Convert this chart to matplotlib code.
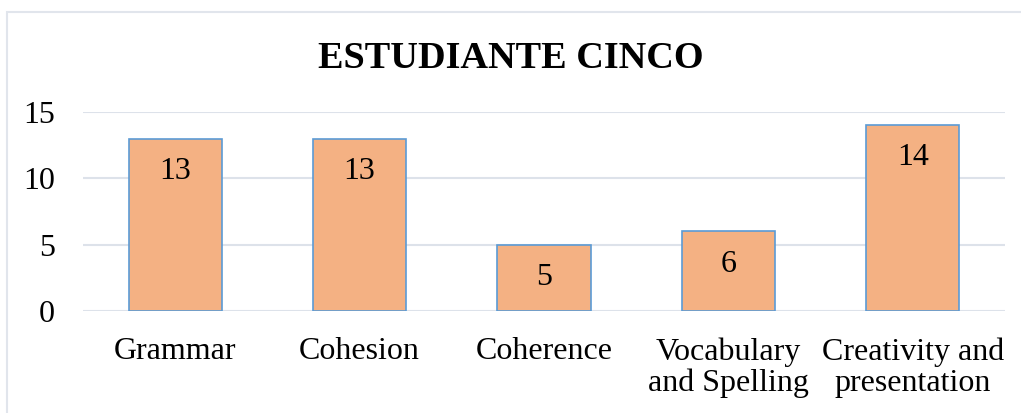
import matplotlib.pyplot as plt
from matplotlib.patches import Rectangle

categories = ['Grammar', 'Cohesion', 'Coherence', 'Vocabulary\nand Spelling', 'Creativity and\npresentation']
scores = [13, 13, 5, 6, 14]
yticks = [0, 5, 10, 15]

plt.rcParams['font.family'] = ['Liberation Serif', 'DejaVu Serif']

fig = plt.figure(figsize=(10.21, 4.13), dpi=100)
ax = fig.add_axes([83 / 1021, 1 - 311 / 413, 922 / 1021, 199 / 413])

# outer chart frame (right/bottom edges run off the picture)
fig.patches.append(Rectangle((7 / 1021, -0.05), 1.1, 1 - 12 / 413 + 0.05,
                             transform=fig.transFigure, fill=False,
                             edgecolor='#e1e5ec', linewidth=1.5))

x = range(len(categories))
bars = ax.bar(x, scores, width=0.505, color='#F4B183', edgecolor='#5B9BD5', linewidth=1.2, zorder=3)

for b, v in zip(bars, scores):
    ax.annotate(str(v), (b.get_x() + b.get_width() / 2, v), xytext=(0, -23.5),
                textcoords='offset points', ha='center', va='center',
                fontsize=23, zorder=4)

ax.set_xlim(-0.5, len(categories) - 0.5)
ax.set_ylim(0, 15)
ax.set_yticks(yticks)
ax.set_xticks(list(x))
ax.set_xticklabels(categories, fontsize=23, linespacing=1.08)
ax.tick_params(axis='y', labelsize=23, length=0, pad=20)
ax.tick_params(axis='x', length=0, pad=19)
ax.yaxis.grid(True, color='#dde2ea', linewidth=1.5, zorder=0)
for s in ax.spines.values():
    s.set_visible(False)

fig.text(0.5, 1 - 58 / 413, 'ESTUDIANTE CINCO', ha='center', va='center',
         fontsize=27.5, fontweight='bold')

fig.savefig('out.png', dpi=100)
